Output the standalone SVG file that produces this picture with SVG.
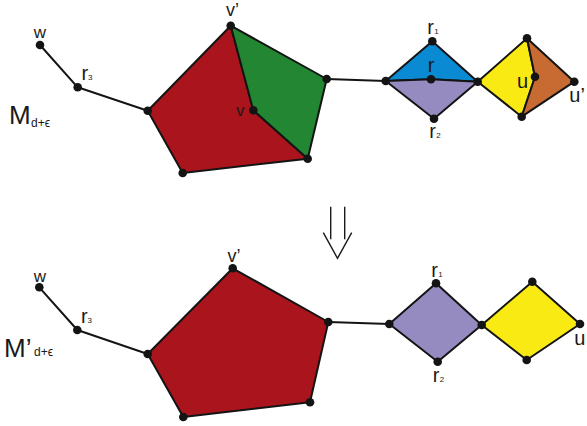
<svg xmlns="http://www.w3.org/2000/svg" width="587" height="426" viewBox="0 0 587 426">
<style>
.e{stroke:#141414;stroke-width:2;fill:none;stroke-linejoin:round}
.f{stroke:#141414;stroke-width:2;stroke-linejoin:round}
.d{fill:#141414}
.t{font-family:"Liberation Sans",Arial,sans-serif;fill:#1a1a1a}
.l{font-size:20px}
.s{font-size:8px}
.a{stroke:#1a1a1a;stroke-width:1.4;fill:none}
</style>
<rect width="587" height="426" fill="#fff"/>
<g id="connectors">
<polyline class="e" points="40,45 77.7,87.3 147.7,110.7"/>
<line class="e" x1="326.7" y1="79" x2="385.7" y2="81"/>
<polyline class="e" points="39.3,287.3 77.3,330 147.7,354"/>
<line class="e" x1="328.3" y1="322" x2="389.3" y2="324"/>
</g>
<g id="top-red"><polygon class="f" fill="#AA141C" points="147.7,110.7 230.7,25.7 253.3,110.3 307.7,158.7 182.7,173"/></g>
<g id="top-green"><polygon class="f" fill="#228633" points="230.7,25.7 326.7,79 307.7,158.7 253.3,110.3"/></g>
<g id="top-blue"><polygon class="f" fill="#0A8AD2" points="385.7,81 432.3,41.3 477.7,81.7 431,79.3"/></g>
<g id="top-purple"><polygon class="f" fill="#968BC1" points="385.7,81 431,79.3 477.7,81.7 434,118.7"/></g>
<g id="top-yellow"><polygon class="f" fill="#F9EA14" points="477.7,81.7 527,38.3 535,76.7 521.7,116.7"/></g>
<g id="top-orange"><polygon class="f" fill="#C86B33" points="527,38.3 574.3,81.7 521.7,116.7 535,76.7"/></g>
<g id="bottom-red"><polygon class="f" fill="#AA141C" points="147.7,354 232.7,268.3 328.3,322 310,402.3 183.3,417"/></g>
<g id="bottom-purple"><polygon class="f" fill="#968BC1" points="389.3,324 436,283.3 481.7,325 437.7,361.7"/></g>
<g id="bottom-yellow"><polygon class="f" fill="#F9EA14" points="481.7,325 532.3,281.7 580,324 526.7,360"/></g>
<g id="vertices">
<circle class="d" cx="40" cy="45" r="4.3"/>
<circle class="d" cx="77.7" cy="87.3" r="4.3"/>
<circle class="d" cx="147.7" cy="110.7" r="4.3"/>
<circle class="d" cx="230.7" cy="25.7" r="4.3"/>
<circle class="d" cx="326.7" cy="79" r="4.3"/>
<circle class="d" cx="307.7" cy="158.7" r="4.3"/>
<circle class="d" cx="182.7" cy="173" r="4.3"/>
<circle class="d" cx="253.3" cy="110.3" r="4.3"/>
<circle class="d" cx="385.7" cy="81" r="4.3"/>
<circle class="d" cx="432.3" cy="41.3" r="4.3"/>
<circle class="d" cx="431" cy="79.3" r="4.3"/>
<circle class="d" cx="477.7" cy="81.7" r="4.3"/>
<circle class="d" cx="434" cy="118.7" r="4.3"/>
<circle class="d" cx="527" cy="38.3" r="4.3"/>
<circle class="d" cx="535" cy="76.7" r="4.3"/>
<circle class="d" cx="574.3" cy="81.7" r="4.3"/>
<circle class="d" cx="521.7" cy="116.7" r="4.3"/>
<circle class="d" cx="39.3" cy="287.3" r="4.3"/>
<circle class="d" cx="77.3" cy="330" r="4.3"/>
<circle class="d" cx="147.7" cy="354" r="4.3"/>
<circle class="d" cx="232.7" cy="268.3" r="4.3"/>
<circle class="d" cx="328.3" cy="322" r="4.3"/>
<circle class="d" cx="310" cy="402.3" r="4.3"/>
<circle class="d" cx="183.3" cy="417" r="4.3"/>
<circle class="d" cx="389.3" cy="324" r="4.3"/>
<circle class="d" cx="436" cy="283.3" r="4.3"/>
<circle class="d" cx="481.7" cy="325" r="4.3"/>
<circle class="d" cx="437.7" cy="361.7" r="4.3"/>
<circle class="d" cx="532.3" cy="281.7" r="4.3"/>
<circle class="d" cx="580" cy="324" r="4.3"/>
<circle class="d" cx="526.7" cy="360" r="4.3"/>
</g>
<g id="arrow">
<line class="a" x1="330.7" y1="206.7" x2="330.7" y2="239.3"/>
<line class="a" x1="344.7" y1="206.7" x2="344.7" y2="239.3"/>
<polyline class="a" points="323.3,232.7 337.5,258.3 351.7,232.7"/>
</g>
<g id="labels">
<text class="t" x="9" y="124" font-size="26">M</text>
<text class="t" x="31" y="127" font-size="12">d+ϵ</text>
<text class="t" x="40" y="38" font-size="17" text-anchor="middle">w</text>
<text class="t l" x="81.5" y="80">r</text><text class="t s" x="88" y="80">3</text>
<text class="t" x="226" y="15.5" font-size="18">v’</text>
<text class="t" x="236" y="115.5" font-size="17">v</text>
<text class="t l" x="427.3" y="33.5">r</text><text class="t s" x="434.3" y="33.7">1</text>
<text class="t l" x="427.8" y="71.7">r</text>
<text class="t l" x="429.3" y="138">r</text><text class="t s" x="436.3" y="138">2</text>
<text class="t l" x="517" y="87.7">u</text>
<text class="t l" x="569.3" y="101.7">u’</text>
<text class="t" x="4" y="357" font-size="26">M’</text>
<text class="t" x="34" y="356" font-size="12">d+ϵ</text>
<text class="t" x="40" y="281.7" font-size="17" text-anchor="middle">w</text>
<text class="t l" x="81" y="323">r</text><text class="t s" x="87.5" y="323">3</text>
<text class="t" x="227.5" y="261.5" font-size="18">v’</text>
<text class="t l" x="431.3" y="276.7">r</text><text class="t s" x="438.3" y="276.7">1</text>
<text class="t l" x="432.8" y="381.7">r</text><text class="t s" x="439.8" y="381.7">2</text>
<text class="t l" x="574.3" y="345">u</text>
</g>
</svg>
